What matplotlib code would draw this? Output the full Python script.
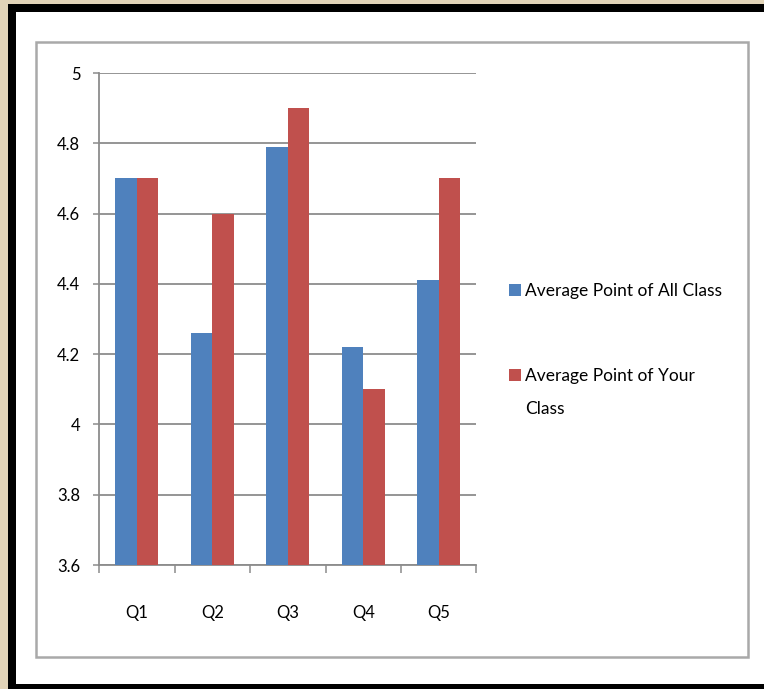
import numpy as np
import matplotlib
matplotlib.use("Agg")
import matplotlib.pyplot as plt
from matplotlib.patches import Rectangle

# data
questions = ["Q1", "Q2", "Q3", "Q4", "Q5"]
all_class = [4.70, 4.26, 4.79, 4.22, 4.41]
your_class = [4.70, 4.60, 4.90, 4.10, 4.70]
series_names = ["Average Point of All Class", "Average Point of Your"]
wrapped_tail = "Class"
yticks = [3.6, 3.8, 4.0, 4.2, 4.4, 4.6, 4.8, 5.0]
ytick_labels = ["3.6", "3.8", "4", "4.2", "4.4", "4.6", "4.8", "5"]

W, H = 764, 689
plt.rcParams["font.family"] = ["Lato", "DejaVu Sans"]

fig = plt.figure(figsize=(W / 100, H / 100), dpi=100)
fig.patch.set_facecolor("#e2d4b8")


def px_rect(x0, y0, x1, y1, **kw):
    # rectangle given in pixel coords (origin top-left)
    return Rectangle((x0 / W, 1 - y1 / H), (x1 - x0) / W, (y1 - y0) / H,
                     transform=fig.transFigure, **kw)


# black frame, white slide, grey chart border
fig.add_artist(px_rect(8, 4, W + 5, H + 5, facecolor="black", edgecolor="none", zorder=0))
fig.add_artist(px_rect(16, 12, W + 5, 684, facecolor="white", edgecolor="none", zorder=0))
fig.add_artist(px_rect(36, 42, 748, 657, facecolor="white", edgecolor="#a9a9a9",
                       linewidth=1.8, zorder=0))

ax = fig.add_axes([99 / W, 1 - 565 / H, (476.5 - 99) / W, (565 - 73) / H])
ax.set_facecolor("none")

x = np.arange(len(questions))
bw = 0.282
ax.bar(x - bw / 2, all_class, bw, color="#4f81bd", label=series_names[0], zorder=3)
ax.bar(x + bw / 2, your_class, bw, color="#c0504d", label=series_names[1], zorder=3)

ax.set_ylim(3.6, 5.0)
ax.set_xlim(-0.5, len(questions) - 0.5)
ax.set_yticks(yticks)
ax.set_yticklabels(ytick_labels)
ax.set_xticks(x)
ax.set_xticklabels(questions)
ax.set_xticks(np.arange(len(questions) + 1) - 0.5, minor=True)

ax.grid(axis="y", color="#8c8c8c", linewidth=1.3, zorder=1)
for side in ["top", "right"]:
    ax.spines[side].set_visible(False)
for side in ["left", "bottom"]:
    ax.spines[side].set_color("#8c8c8c")
    ax.spines[side].set_linewidth(1.3)

ax.tick_params(axis="y", length=4.5, width=1.1, color="#8c8c8c", pad=9, labelsize=12)
ax.tick_params(axis="x", which="major", length=0, pad=29, labelsize=12)
ax.tick_params(axis="x", which="minor", length=5.5, width=1.1, color="#8c8c8c")

fs = 12.5
leg = fig.legend(loc="upper left", bbox_to_anchor=(500 / W, 1 - 274 / H),
                 frameon=False, fontsize=fs, handlelength=0.7, handleheight=0.7,
                 handletextpad=0.25, labelspacing=4.0, borderpad=0)

# wrapped second line of the second legend label
fig.canvas.draw()
bb = leg.get_texts()[1].get_window_extent()
fig.text(bb.x0, bb.y0 - 33, wrapped_tail, transform=None, fontsize=fs, va="bottom")

fig.savefig("out.png", dpi=100, facecolor=fig.get_facecolor())
